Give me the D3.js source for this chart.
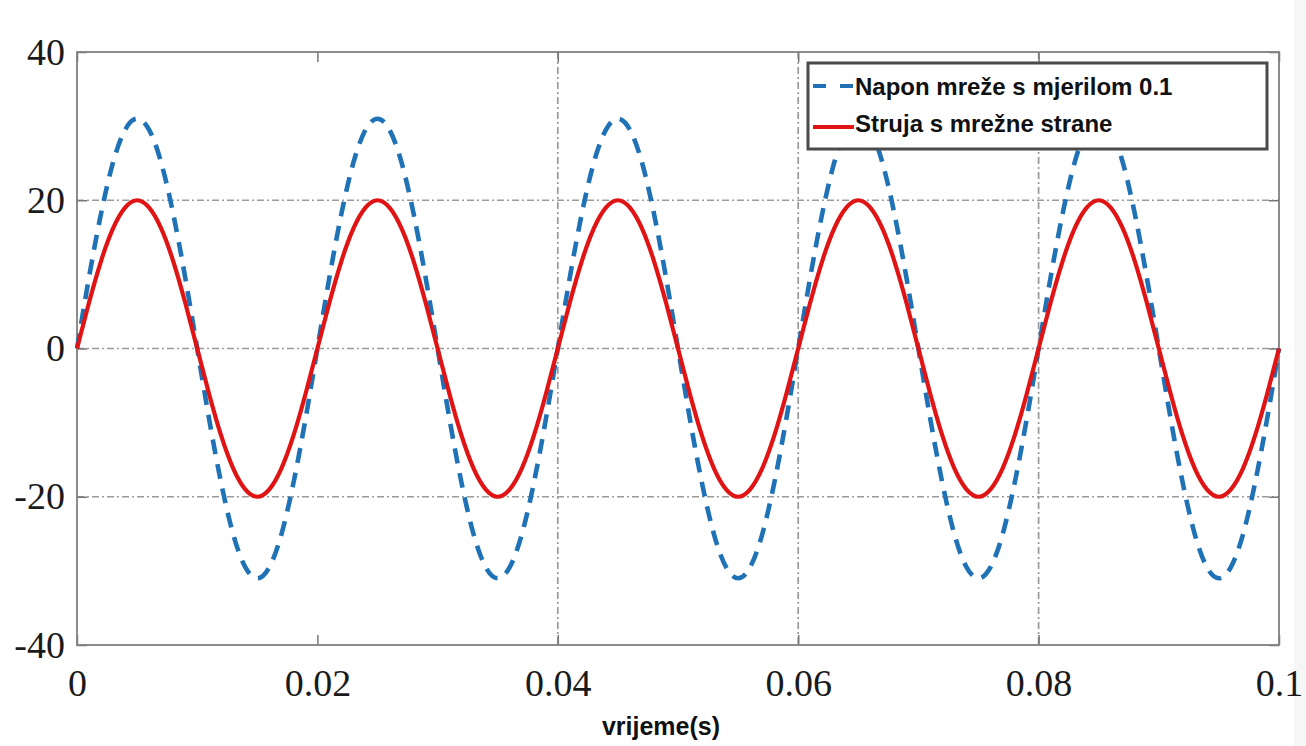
<!DOCTYPE html>
<html>
<head>
<meta charset="utf-8">
<script src="https://cdn.jsdelivr.net/npm/d3@7"></script>
<style>
  body { margin: 0; background: #fff; }
  svg { display: block; }
</style>
</head>
<body>
<div id="chart"></div>
<script>
// sample times in ms (read every 1 ms)
const timeMs = [0,1,2,3,4,5,6,7,8,9,10,11,12,13,14,15,16,17,18,19,
  20,21,22,23,24,25,26,27,28,29,30,31,32,33,34,35,36,37,38,39,
  40,41,42,43,44,45,46,47,48,49,50,51,52,53,54,55,56,57,58,59,
  60,61,62,63,64,65,66,67,68,69,70,71,72,73,74,75,76,77,78,79,
  80,81,82,83,84,85,86,87,88,89,90,91,92,93,94,95,96,97,98,99,100];

// grid voltage scaled by 0.1
const voltage = [0,9.6,18.2,25.1,29.5,31,29.5,25.1,18.2,9.6,0,-9.6,-18.2,-25.1,-29.5,-31,-29.5,-25.1,-18.2,-9.6,
  0,9.6,18.2,25.1,29.5,31,29.5,25.1,18.2,9.6,0,-9.6,-18.2,-25.1,-29.5,-31,-29.5,-25.1,-18.2,-9.6,
  0,9.6,18.2,25.1,29.5,31,29.5,25.1,18.2,9.6,0,-9.6,-18.2,-25.1,-29.5,-31,-29.5,-25.1,-18.2,-9.6,
  0,9.6,18.2,25.1,29.5,31,29.5,25.1,18.2,9.6,0,-9.6,-18.2,-25.1,-29.5,-31,-29.5,-25.1,-18.2,-9.6,
  0,9.6,18.2,25.1,29.5,31,29.5,25.1,18.2,9.6,0,-9.6,-18.2,-25.1,-29.5,-31,-29.5,-25.1,-18.2,-9.6,0];

// grid-side current
const current = [0,6.2,11.8,16.2,19,20,19,16.2,11.8,6.2,0,-6.2,-11.8,-16.2,-19,-20,-19,-16.2,-11.8,-6.2,
  0,6.2,11.8,16.2,19,20,19,16.2,11.8,6.2,0,-6.2,-11.8,-16.2,-19,-20,-19,-16.2,-11.8,-6.2,
  0,6.2,11.8,16.2,19,20,19,16.2,11.8,6.2,0,-6.2,-11.8,-16.2,-19,-20,-19,-16.2,-11.8,-6.2,
  0,6.2,11.8,16.2,19,20,19,16.2,11.8,6.2,0,-6.2,-11.8,-16.2,-19,-20,-19,-16.2,-11.8,-6.2,
  0,6.2,11.8,16.2,19,20,19,16.2,11.8,6.2,0,-6.2,-11.8,-16.2,-19,-20,-19,-16.2,-11.8,-6.2,0];

const xTicks = [0, 0.02, 0.04, 0.06, 0.08, 0.1];
const xTickLabels = ["0", "0.02", "0.04", "0.06", "0.08", "0.1"];
const yTicks = [-40, -20, 0, 20, 40];
const yTickLabels = ["-40", "-20", "0", "20", "40"];
const xGrid = [0.04, 0.06, 0.08];
const yGrid = [-20, 0, 20];
const seriesNames = ["Napon mreže s mjerilom 0.1", "Struja s mrežne strane"];

const W = 1306, H = 746;
const margin = { top: 52, right: 27, bottom: 101, left: 77 },
    width = W - margin.left - margin.right,
    height = H - margin.top - margin.bottom;

const root = d3.select("#chart").append("svg")
    .attr("width", W)
    .attr("height", H);

// light strip on the right edge of the screenshot
root.append("rect").attr("x", 1294).attr("y", 0).attr("width", 12).attr("height", H).attr("fill", "#f6f6f6");

const svg = root.append("g")
    .attr("transform", `translate(${margin.left},${margin.top})`);

const x = d3.scaleLinear().domain([0, 0.1]).range([0, width]);
const y = d3.scaleLinear().domain([-40, 40]).range([height, 0]);

// dash-dot grid
const gridStyle = g => g.attr("stroke", "#9a9a9a").attr("stroke-width", 1.7)
    .attr("stroke-dasharray", "7,3,2,3");
svg.append("g").selectAll("line").data(yGrid).join("line")
    .attr("x1", 0).attr("x2", width)
    .attr("y1", d => y(d)).attr("y2", d => y(d))
    .call(gridStyle);
svg.append("g").selectAll("line").data(xGrid).join("line")
    .attr("y1", 0).attr("y2", height)
    .attr("x1", d => x(d)).attr("x2", d => x(d))
    .call(gridStyle);

// axes with inward ticks
const axisFont = g => {
    g.select(".domain").remove();
    g.selectAll(".tick line").attr("stroke", "#777").attr("stroke-width", 1.5);
    g.selectAll("text").attr("font-family", "'Liberation Serif', 'Times New Roman', serif")
        .attr("font-size", 38).attr("fill", "#1a1a1a");
};
svg.append("g")
    .attr("transform", `translate(0,${height})`)
    .call(d3.axisBottom(x).tickValues(xTicks).tickFormat((d, i) => xTickLabels[i])
        .tickSizeInner(-10).tickSizeOuter(0).tickPadding(24))
    .call(axisFont);
svg.append("g")
    .call(d3.axisLeft(y).tickValues(yTicks).tickFormat((d, i) => yTickLabels[i])
        .tickSizeInner(-10).tickSizeOuter(0).tickPadding(12))
    .call(axisFont);
svg.append("g")
    .call(d3.axisTop(x).tickValues(xTicks).tickFormat("").tickSizeInner(-10).tickSizeOuter(0))
    .call(axisFont);
svg.append("g")
    .attr("transform", `translate(${width},0)`)
    .call(d3.axisRight(y).tickValues(yTicks).tickFormat("").tickSizeInner(-10).tickSizeOuter(0))
    .call(axisFont);

// plot box
svg.append("rect")
    .attr("width", width).attr("height", height)
    .attr("fill", "none").attr("stroke", "#808080").attr("stroke-width", 1.8);

// curves
const pts = arr => timeMs.map((t, i) => [t / 1000, arr[i]]);
const line = d3.line().x(d => x(d[0])).y(d => y(d[1])).curve(d3.curveNatural);

svg.append("path")
    .attr("d", line(pts(voltage)))
    .attr("fill", "none").attr("stroke", "#1f72b6").attr("stroke-width", 4.6)
    .attr("stroke-dasharray", "15,10");
svg.append("path")
    .attr("d", line(pts(current)))
    .attr("fill", "none").attr("stroke", "#e01414").attr("stroke-width", 4.2);

// legend
const lg = root.append("g").attr("transform", "translate(808,63)");
lg.append("rect").attr("width", 459).attr("height", 86)
    .attr("fill", "#fff").attr("stroke", "#4a4a4a").attr("stroke-width", 3);
lg.append("line").attr("x1", 5).attr("x2", 46).attr("y1", 23).attr("y2", 23)
    .attr("stroke", "#1f72b6").attr("stroke-width", 4).attr("stroke-dasharray", "13,14");
lg.append("line").attr("x1", 5).attr("x2", 46).attr("y1", 64).attr("y2", 64)
    .attr("stroke", "#e01414").attr("stroke-width", 4);
lg.selectAll("text").data(seriesNames).join("text")
    .attr("x", 47).attr("y", (d, i) => 32 + i * 37)
    .attr("font-family", "'Liberation Sans', Arial, sans-serif")
    .attr("font-weight", "bold").attr("font-size", 24).attr("fill", "#111")
    .text(d => d);

// x label
root.append("text")
    .attr("x", 661).attr("y", 735)
    .attr("text-anchor", "middle")
    .attr("font-family", "'Liberation Sans', Arial, sans-serif")
    .attr("font-weight", "bold").attr("font-size", 25).attr("fill", "#111")
    .text("vrijeme(s)");
</script>
</body>
</html>
